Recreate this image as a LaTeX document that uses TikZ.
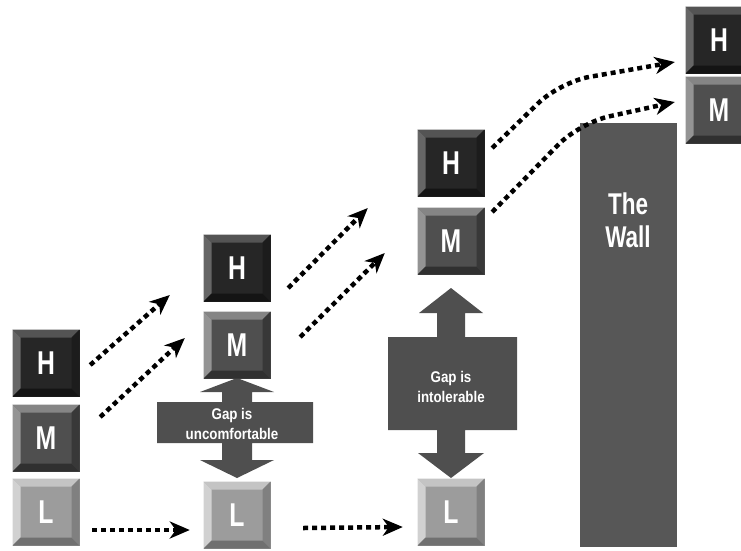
\documentclass[tikz,border=0pt]{standalone}
\usepackage{fontspec}
\usepackage{tikz}
\usetikzlibrary{arrows.meta}
\newfontfamily\keyfont{Liberation Sans}[FakeStretch=0.75]
\newfontfamily\gapfont{Liberation Sans}[FakeStretch=0.86]

\definecolor{Hface}{gray}{0.15}
\definecolor{Htop}{gray}{0.33}
\definecolor{Hleft}{gray}{0.40}
\definecolor{Hright}{gray}{0.11}
\definecolor{Hbot}{gray}{0.08}
\definecolor{Mface}{gray}{0.31}
\definecolor{Mtop}{gray}{0.52}
\definecolor{Mleft}{gray}{0.58}
\definecolor{Mright}{gray}{0.22}
\definecolor{Mbot}{gray}{0.19}
\definecolor{Lface}{gray}{0.61}
\definecolor{Ltop}{gray}{0.77}
\definecolor{Lleft}{gray}{0.82}
\definecolor{Lright}{gray}{0.50}
\definecolor{Lbot}{gray}{0.44}
\definecolor{gapgray}{gray}{0.31}
\definecolor{wallgray}{gray}{0.34}

\tikzset{
  key/.style={minimum size=67pt, inner sep=0pt, text=white,
    font=\keyfont\bfseries\fontsize{33}{33}\selectfont, fill=#1face,
    path picture={
      \path (path picture bounding box.north west) coordinate (kNW)
            (path picture bounding box.north east) coordinate (kNE)
            (path picture bounding box.south west) coordinate (kSW)
            (path picture bounding box.south east) coordinate (kSE);
      \fill[#1top] (kNW) -- (kNE) -- ([shift={(-8pt,-8pt)}]kNE) -- ([shift={(8pt,-8pt)}]kNW) -- cycle;
      \fill[#1left] (kNW) -- ([shift={(8pt,-8pt)}]kNW) -- ([shift={(8pt,8pt)}]kSW) -- (kSW) -- cycle;
      \fill[#1right] (kNE) -- ([shift={(-8pt,-8pt)}]kNE) -- ([shift={(-8pt,8pt)}]kSE) -- (kSE) -- cycle;
      \fill[#1bot] (kSW) -- ([shift={(8pt,8pt)}]kSW) -- ([shift={(-8pt,8pt)}]kSE) -- (kSE) -- cycle;
    }},
  flow/.style={line width=4.5pt, dash pattern=on 5pt off 4pt,
    -{Stealth[length=20pt,width=17pt,inset=6pt]}},
  gaptext/.style={text=white, align=center, font=\gapfont\bfseries\fontsize{15.5}{20}\selectfont},
  wall/.style={fill=wallgray, minimum width=97pt, minimum height=424pt, inner sep=0pt},
  walltext/.style={text=white, align=center, font=\keyfont\bfseries\fontsize{30}{33}\selectfont},
}

\begin{document}
\begin{tikzpicture}[x=1pt, y=-1pt]
  \useasboundingbox (0,0) rectangle (741,550);
  \clip (0,0) rectangle (741,550);

  % the wall
  \node[wall] (wall) at (628.5,335) {};
  \node[walltext] (walltxt) at (628,220) {The\\Wall};

  % gap arrows
  \fill[gapgray] (237,378) -- (274,392) -- (252,392) -- (252,402) -- (313,402) -- (313,443)
    -- (252,443) -- (252,460) -- (274,460) -- (237,478) -- (200,460) -- (222,460) -- (222,443)
    -- (157,443) -- (157,402) -- (222,402) -- (222,392) -- (200,392) -- cycle;
  \node[gaptext] (gap1) at (232,424) {Gap is\\uncomfortable};

  \fill[gapgray] (451,288) -- (483,313) -- (465,313) -- (465,337) -- (517,337) -- (517,430)
    -- (465,430) -- (465,453) -- (484,453) -- (451,478) -- (418,453) -- (437,453) -- (437,430)
    -- (388,430) -- (388,337) -- (437,337) -- (437,313) -- (419,313) -- cycle;
  \node[gaptext] (gap2) at (451,387) {Gap is\\intolerable};

  % keys
  \node[key=H] (H1) at (46,363) {H};
  \node[key=M] (M1) at (46,438) {M};
  \node[key=L] (L1) at (46,512) {L};

  \node[key=H] (H2) at (237,268) {H};
  \node[key=M] (M2) at (237,345) {M};
  \node[key=L] (L2) at (237,515) {L};

  \node[key=H] (H3) at (451,163) {H};
  \node[key=M] (M3) at (451,241) {M};
  \node[key=L] (L3) at (451,512) {L};

  \node[key=H] (H4) at (719,40) {H};
  \node[key=M] (M4) at (719,110) {M};

  % moves
  \draw[flow] ([shift={(12.5pt,-18pt)}]L1.east) -- ([shift={(-13.5pt,-15pt)}]L2.west);
  \draw[flow] ([shift={(32.5pt,-13pt)}]L2.east) -- ([shift={(-14.5pt,-15pt)}]L3.west);

  \draw[flow] ([shift={(10.5pt,-2pt)}]H1.east) -- ([shift={(-33.5pt,-27pt)}]H2.west);
  \draw[flow] ([shift={(20.5pt,21pt)}]M1.east) -- ([shift={(-18.5pt,7pt)}]M2.west);

  \draw[flow] ([shift={(17.5pt,-20pt)}]H2.east) -- ([shift={(-49.5pt,-45pt)}]H3.west);
  \draw[flow] ([shift={(29.5pt,8pt)}]M2.east) -- ([shift={(-32.5pt,-12pt)}]M3.west);

  \coordinate (bend) at (560,82);
  \draw[flow, rounded corners=30pt] ([shift={(7.5pt,15pt)}]H3.east) -- (bend) -- ([shift={(-10.5pt,-22pt)}]H4.west);
  \draw[flow, rounded corners=30pt] ([shift={(7.5pt,29pt)}]M3.east) -- (wall.north west) -- ([shift={(-10.5pt,8pt)}]M4.west);
\end{tikzpicture}
\end{document}
